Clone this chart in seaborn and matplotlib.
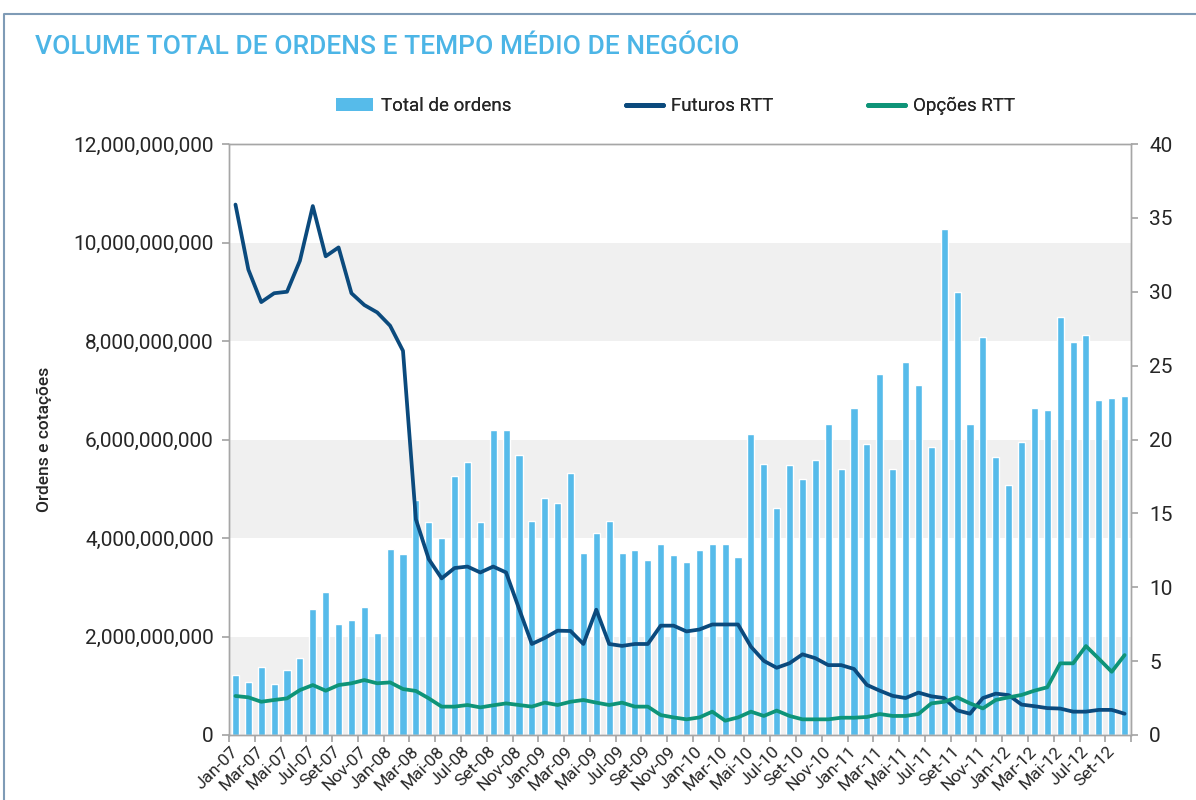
import numpy as np
import pandas as pd
import seaborn as sns
import matplotlib.pyplot as plt
import matplotlib.transforms as mtransforms
from matplotlib.patches import Patch
from matplotlib.lines import Line2D
from matplotlib.ticker import FuncFormatter, MultipleLocator

# month labels, Jan-07 .. Out-12
month_names = ['Jan', 'Fev', 'Mar', 'Abr', 'Mai', 'Jun', 'Jul', 'Ago', 'Set', 'Out', 'Nov', 'Dez']
months = [f'{m}-{y:02d}' for y in range(7, 13) for m in month_names][:70]

# total de ordens (billions)
total_ordens_bn = [
    1.21, 1.07, 1.39, 1.03, 1.32, 1.57, 2.55, 2.91, 2.26, 2.34, 2.59, 2.08,
    3.78, 3.68, 4.78, 4.32, 3.99, 5.26, 5.55, 4.32, 6.20, 6.20, 5.69, 4.35,
    4.81, 4.71, 5.32, 3.70, 4.10, 4.35, 3.70, 3.76, 3.55, 3.88, 3.65, 3.52,
    3.76, 3.88, 3.88, 3.62, 6.12, 5.51, 4.60, 5.48, 5.19, 5.59, 6.31, 5.41,
    6.64, 5.91, 7.33, 5.41, 7.58, 7.11, 5.84, 10.27, 8.99, 6.31, 8.09, 5.65,
    5.07, 5.94, 6.64, 6.60, 8.49, 7.98, 8.12, 6.81, 6.84, 6.89,
]

# round trip time, futuros
futuros_rtt = [
    35.9, 31.5, 29.3, 29.9, 30.0, 32.1, 35.8, 32.4, 33.0, 29.9, 29.1, 28.6,
    27.7, 26.0, 14.6, 11.9, 10.6, 11.3, 11.4, 11.0, 11.4, 11.0, 8.56, 6.16,
    6.57, 7.06, 7.04, 6.16, 8.48, 6.16, 6.03, 6.16, 6.16, 7.40, 7.40, 7.01,
    7.14, 7.48, 7.48, 7.48, 5.98, 5.02, 4.55, 4.86, 5.46, 5.20, 4.73, 4.73,
    4.47, 3.39, 3.00, 2.65, 2.50, 2.87, 2.62, 2.50, 1.67, 1.44, 2.50, 2.80,
    2.70, 2.06, 1.95, 1.82, 1.79, 1.58, 1.58, 1.70, 1.70, 1.44,
]

# round trip time, opcoes
opcoes_rtt = [
    2.64, 2.55, 2.25, 2.37, 2.48, 3.04, 3.38, 3.00, 3.38, 3.50, 3.72, 3.50,
    3.56, 3.11, 2.98, 2.48, 1.92, 1.92, 2.03, 1.87, 2.01, 2.14, 2.03, 1.92,
    2.19, 2.03, 2.25, 2.37, 2.19, 2.03, 2.19, 1.92, 1.92, 1.35, 1.19, 1.06,
    1.19, 1.58, 0.97, 1.19, 1.58, 1.29, 1.65, 1.29, 1.06, 1.06, 1.06, 1.17,
    1.17, 1.22, 1.42, 1.29, 1.29, 1.42, 2.14, 2.25, 2.55, 2.14, 1.80, 2.37,
    2.55, 2.71, 3.00, 3.23, 4.85, 4.85, 6.02, 5.16, 4.28, 5.41,
]

legend_labels = ['Total de ordens', 'Futuros RTT', 'Opções RTT']

BAR_COLOR = '#56bbea'
FUT_COLOR = '#0b4a7d'
OPC_COLOR = '#0e9478'
SPINE_COLOR = '#a6a6a6'


def plot_orders_chart():
    '''
    Bars of total orders (left axis) with futures / options round trip time (right axis).
    Saves out.png
    '''
    df = pd.DataFrame({
        'mes': months,
        'pos': np.arange(len(months)),
        'total': np.array(total_ordens_bn) * 1e9,
        'futuros': futuros_rtt,
        'opcoes': opcoes_rtt,
    })

    sns.set_theme(style='white')
    plt.rcParams['font.family'] = ['Roboto', 'DejaVu Sans']

    fig = plt.figure(figsize=(11.96, 8), dpi=100)
    ax = fig.add_axes([0.1915, 0.08125, 0.7542, 0.73875])

    # alternating grey bands
    for lo in (0, 4e9, 8e9):
        ax.axhspan(lo, lo + 2e9, color='#f0f0f0', lw=0, zorder=0)

    sns.barplot(data=df, x='pos', y='total', native_scale=True, color=BAR_COLOR,
                saturation=1, width=0.55, errorbar=None, ax=ax, zorder=2)

    ax2 = ax.twinx()
    sns.lineplot(data=df, x='pos', y='futuros', color=FUT_COLOR, lw=2.7, ax=ax2, sort=False)
    sns.lineplot(data=df, x='pos', y='opcoes', color=OPC_COLOR, lw=2.7, ax=ax2, sort=False)

    ax.set_xlim(-0.5, len(months) - 0.5)
    ax.set_ylim(0, 12e9)
    ax2.set_ylim(0, 40)
    ax.yaxis.set_major_locator(MultipleLocator(2e9))
    ax.yaxis.set_major_formatter(FuncFormatter(lambda v, p: f'{v:,.0f}'))
    ax2.yaxis.set_major_locator(MultipleLocator(5))

    # ticks between categories, labels on every second month
    ax.set_xticks(np.arange(-0.5, len(months), 2))
    ax.set_xticklabels([])
    ax.set_xticks(np.arange(0, len(months), 2), minor=True)
    ax.set_xticklabels(months[::2], minor=True, rotation=45, ha='right',
                       va='center', rotation_mode='anchor', fontsize=12.5)
    shift = mtransforms.ScaledTranslation(5 / 100, 0, fig.dpi_scale_trans)
    for lbl in ax.get_xticklabels(minor=True):
        lbl.set_transform(lbl.get_transform() + shift)
    ax.tick_params(axis='x', which='major', direction='out', length=5,
                   color=SPINE_COLOR, bottom=True)
    ax.tick_params(axis='x', which='minor', length=0, pad=10, bottom=True)
    ax.tick_params(axis='y', direction='out', length=5, color=SPINE_COLOR,
                   labelsize=15, pad=6, left=True)
    ax2.tick_params(axis='y', direction='out', length=5, color=SPINE_COLOR,
                    labelsize=15, pad=8, right=True)

    for a in (ax, ax2):
        for s in a.spines.values():
            s.set_color(SPINE_COLOR)
            s.set_linewidth(1)

    ax.set_xlabel('')
    ax2.set_ylabel('')
    ax.set_ylabel('Ordens e cotações', fontsize=12.5, fontweight='medium')
    ax.yaxis.set_label_coords(-0.196, 0.5)

    # one small legend per series, placed like the original
    handles = [
        Patch(facecolor=BAR_COLOR, edgecolor='none'),
        Line2D([], [], color=FUT_COLOR, lw=3.5),
        Line2D([], [], color=OPC_COLOR, lw=3.5),
    ]
    for h, lab, x0 in zip(handles, legend_labels, (336, 626, 868)):
        leg = fig.legend([h], [lab], loc='center left',
                         bbox_to_anchor=(x0 / 1196, 1 - 106 / 800), frameon=False,
                         fontsize=13.5, handlelength=1.95, handleheight=0.65,
                         handletextpad=0.45, borderpad=0, borderaxespad=0)
        fig.add_artist(leg)

    fig.text(35 / 1196, 1 - 47 / 800, 'VOLUME TOTAL DE ORDENS E TEMPO MÉDIO DE NEGÓCIO',
             color='#4cb5e6', fontsize=19, fontweight='medium', va='center', ha='left')

    # box frame around the panel
    fig.add_artist(Line2D([4 / 1196, 4 / 1196, 1], [0, 1 - 14 / 800, 1 - 14 / 800],
                          transform=fig.transFigure, color='#7f9bb6', lw=1.5))

    fig.savefig('out.png', dpi=100)
    plt.close(fig)


plot_orders_chart()
